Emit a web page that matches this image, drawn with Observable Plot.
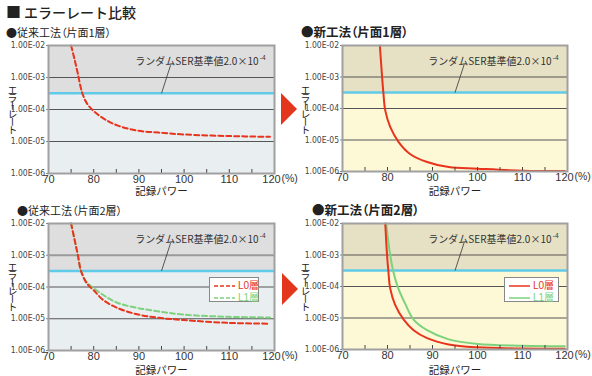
<!DOCTYPE html>
<html><head><meta charset="utf-8">
<script src="https://cdn.jsdelivr.net/npm/d3@7"></script>
<script src="https://cdn.jsdelivr.net/npm/@observablehq/plot@0.6"></script>
<style>
body{margin:0;background:#fff;}
#c{position:relative;width:592px;height:376px;overflow:hidden;font-family:"Liberation Sans","Noto Sans CJK JP",sans-serif;color:#222;}
.abs{position:absolute;white-space:nowrap;}
.jp{font-family:"Noto Sans CJK JP",sans-serif;}
.palt{font-feature-settings:"palt";}
.vlabel{position:absolute;writing-mode:vertical-rl;text-orientation:mixed;font-family:"Noto Sans CJK JP",sans-serif;font-size:10px;letter-spacing:-2px;line-height:10px;color:#222;}
.p [aria-label="y-axis tick label"]{font-family:"Liberation Sans Narrow","DejaVu Sans Condensed","Liberation Sans",sans-serif;font-size:8.5px;}
.arrow{position:absolute;width:0;height:0;border-left:16px solid #e2371c;border-top:16.5px solid transparent;border-bottom:16.5px solid transparent;}
</style></head><body><div id="c"></div>
<script>
// ---- axes ----
const xDomain = [70, 120];
const yDomain = [1e-6, 1e-2];
const xTicks = [70, 80, 90, 100, 110];
const xLastTick = [120];
const minorTicks = [75, 80, 85, 90, 95, 100, 105, 110, 115];
const yTicks = [1e-2, 1e-3, 1e-4, 1e-5, 1e-6];
const yTickLabels = ["1.00E-02", "1.00E-03", "1.00E-04", "1.00E-05", "1.00E-06"];
const gridValues = [1e-3, 1e-4, 1e-5];
const threshold = 3.2e-4;           // drawn position of the reference line
const thresholdText = "ランダムSER基準値2.0×10";
const thresholdExp = "-4";
const xLabel = "記録パワー";
const yLabel = "エラーレート";
const unitText = "(%)";
const title = "エラーレート比較";
const panelTitles = ["●従来工法（片面1層）", "●新工法（片面1層）", "●従来工法（片面2層）", "●新工法（片面2層）"];
const seriesNames = ["L0層", "L1層"];

// ---- series ----
const conv1Power = [75, 75.8, 76.5, 77.4, 78.5, 80, 82.2, 85.2, 89.6, 94.4, 100, 110, 119];
const conv1Rate  = [1e-2, 3.5e-3, 1.3e-3, 3.5e-4, 1.55e-4, 8.9e-5, 5.2e-5, 3.2e-5, 2.2e-5, 1.9e-5, 1.66e-5, 1.48e-5, 1.4e-5];

const new1Power = [78.3, 78.8, 79.1, 79.5, 80.6, 82.4, 85, 88.8, 93.6, 100, 110, 119.4];
const new1Rate  = [1e-2, 1e-3, 2.95e-4, 8.7e-5, 2.6e-5, 8.9e-6, 3.6e-6, 2.0e-6, 1.38e-6, 1.23e-6, 1.06e-6, 1.03e-6];

const conv2L0Power = [75, 75.8, 76.5, 77.2, 78.5, 80, 82.2, 85.2, 89.6, 94.4, 99.9, 109.9, 119];
const conv2L0Rate  = [1e-2, 2.95e-3, 1e-3, 3.16e-4, 1.29e-4, 7.9e-5, 3.8e-5, 2.2e-5, 1.38e-5, 1.07e-5, 9.1e-6, 7.4e-6, 7.0e-6];
const conv2L1Power = [75, 75.8, 76.5, 77.2, 78.5, 80, 82.2, 85.2, 89.6, 94.4, 99.9, 109.9, 119];
const conv2L1Rate  = [1e-2, 2.95e-3, 1e-3, 3.16e-4, 1.4e-4, 9.3e-5, 5.5e-5, 3.2e-5, 2.2e-5, 1.7e-5, 1.35e-5, 1.15e-5, 1.1e-5];

const new2L0Power = [79.5, 79.9, 80.2, 80.6, 81.7, 83.6, 85.8, 88.8, 93.6, 100, 110, 119.4];
const new2L0Rate  = [1e-2, 1e-3, 2.95e-4, 8.7e-5, 2.6e-5, 8.9e-6, 4.1e-6, 2.3e-6, 1.45e-6, 1.17e-6, 1.07e-6, 1.05e-6];
const new2L1Power = [79.7, 80.6, 81.3, 82.4, 83.9, 85.8, 88.8, 93.6, 100, 110, 119.4];
const new2L1Rate  = [1e-2, 1e-3, 2.95e-4, 8.7e-5, 2.9e-5, 8.9e-6, 4.1e-6, 2.1e-6, 1.5e-6, 1.32e-6, 1.26e-6];

const zip = (p, r) => p.map((x, i) => ({power: x, rate: r[i]}));

const RED = "#e8341c", GREEN = "#7dd27d", BLUE = "#5fcbe9";
const root = document.getElementById("c");

function panel({left, top, width, height, upper, lower, grid3, grid3W, lines, labelDy}) {
  const mt = 10, ml = 48, mr = 32, mb = 26;
  const bands = [
    {x1: xDomain[0], x2: xDomain[1], y1: threshold, y2: yDomain[1], fill: upper},
    {x1: xDomain[0], x2: xDomain[1], y1: yDomain[0], y2: threshold, fill: lower}
  ];
  const leader = [{x1: 95, y1: threshold, x2: 97, y2: 2.4e-3}];
  const marks = [
    ...bands.map(b => Plot.rect([b], {x1: "x1", x2: "x2", y1: "y1", y2: "y2", fill: b.fill})),
    Plot.ruleY(gridValues.slice(1), {stroke: "#555", strokeWidth: 1}),
    Plot.ruleY(gridValues.slice(0, 1), {stroke: grid3, strokeWidth: grid3W}),
    Plot.ruleY([threshold], {stroke: BLUE, strokeWidth: 2.5}),
    Plot.link(leader, {x1: "x1", y1: "y1", x2: "x2", y2: "y2", stroke: "#333", strokeWidth: 0.8}),
    Plot.text([thresholdText], {frameAnchor: "top-right", dx: -16, dy: 16, textAnchor: "end", lineAnchor: "middle", fontSize: 10, fill: "#333", fontFamily: "Noto Sans CJK JP"}),
    Plot.text([thresholdExp], {frameAnchor: "top-right", dx: -9, dy: 12.5, textAnchor: "end", lineAnchor: "middle", fontSize: 6.5, fill: "#333"}),
    ...lines.map(l => Plot.line(l.data, {x: "power", y: "rate", stroke: l.color, strokeWidth: 2, strokeDasharray: l.dash, curve: "catmull-rom"})),
    Plot.tickX(minorTicks, {stroke: "#444", strokeWidth: 1, insetTop: height - 4}),
    Plot.frame({stroke: "#a0a0a0", strokeWidth: 2}),
    Plot.axisY({ticks: yTicks, tickFormat: d => yTickLabels[yTicks.indexOf(d)], tickSize: 2, tickPadding: 1.5, stroke: "#888", fill: "#444", label: null}),
    Plot.axisX({ticks: xTicks, tickSize: 0, tickPadding: 1.5, fill: "#333", fontSize: 11, label: null}),
    Plot.axisX({ticks: xLastTick, tickSize: 0, tickPadding: 1.5, dx: -3, fill: "#333", fontSize: 11, label: null}),
    Plot.text([unitText], {frameAnchor: "bottom-right", dx: 7, dy: 1.5, textAnchor: "start", lineAnchor: "top", fontSize: 10.5, fill: "#333"}),
    Plot.text([xLabel], {frameAnchor: "bottom", dy: labelDy, lineAnchor: "middle", fontSize: 10.5, fill: "#222", fontFamily: "Noto Sans CJK JP"})
  ];
  const svg = Plot.plot({
    width: ml + width + mr, height: mt + height + mb,
    marginLeft: ml, marginRight: mr, marginTop: mt, marginBottom: mb,
    className: "p",
    style: {background: "transparent", fontFamily: "Liberation Sans, Noto Sans CJK JP, sans-serif", fontSize: "11px", overflow: "visible"},
    x: {domain: xDomain},
    y: {type: "log", domain: yDomain},
    marks
  });
  svg.style.position = "absolute";
  svg.style.left = (left - ml) + "px";
  svg.style.top = (top - mt) + "px";
  svg.style.maxWidth = "none";
  root.appendChild(svg);
}

const GRAY_UP = "#dedede", GRAY_LO = "#e9eef1", TAN_UP = "#e6e1c4", YEL_LO = "#fdf8d6";
panel({left: 48, top: 45, width: 226, height: 128, upper: GRAY_UP, lower: GRAY_LO, grid3: "#555", grid3W: 1, labelDy: 18.5,
  lines: [{data: zip(conv1Power, conv1Rate), color: RED, dash: "5,3"}]});
panel({left: 342, top: 45, width: 225, height: 126, upper: TAN_UP, lower: YEL_LO, grid3: "#555", grid3W: 1, labelDy: 20.5,
  lines: [{data: zip(new1Power, new1Rate), color: RED, dash: null}]});
panel({left: 48, top: 223, width: 226, height: 127, upper: GRAY_UP, lower: GRAY_LO, grid3: "#9a9a9a", grid3W: 2, labelDy: 20,
  lines: [{data: zip(conv2L1Power, conv2L1Rate), color: GREEN, dash: "5,3"}, {data: zip(conv2L0Power, conv2L0Rate), color: RED, dash: "5,3"}]});
panel({left: 342, top: 223, width: 225, height: 126, upper: TAN_UP, lower: YEL_LO, grid3: "#a09a8a", grid3W: 2, labelDy: 21,
  lines: [{data: zip(new2L1Power, new2L1Rate), color: GREEN, dash: null}, {data: zip(new2L0Power, new2L0Rate), color: RED, dash: null}]});

function addDiv(html, cls, style) {
  const d = document.createElement("div");
  d.className = cls; d.innerHTML = html; Object.assign(d.style, style); root.appendChild(d); return d;
}
// title
addDiv("■", "abs jp", {left: "6px", top: "2px", fontSize: "15px", lineHeight: "20px"});
addDiv(title, "abs jp", {left: "24px", top: "2px", fontSize: "14px", lineHeight: "20px", fontWeight: "500"});
// panel titles
addDiv(panelTitles[0], "abs jp palt", {left: "6px", top: "25px", fontSize: "11px", lineHeight: "14px"});
addDiv(panelTitles[1], "abs jp palt", {left: "301px", top: "24px", fontSize: "12.5px", lineHeight: "16px", fontWeight: "bold"});
addDiv(panelTitles[2], "abs jp palt", {left: "17px", top: "203px", fontSize: "11px", lineHeight: "14px"});
addDiv(panelTitles[3], "abs jp palt", {left: "312px", top: "202px", fontSize: "12.5px", lineHeight: "16px", fontWeight: "bold"});
// y labels
[[7, 85], [300, 85], [7, 262], [300, 262]].forEach(([l, t]) => addDiv(yLabel, "vlabel", {left: l + "px", top: t + "px"}));
// arrows
addDiv("", "arrow", {left: "281px", top: "93px"});
addDiv("", "arrow", {left: "282px", top: "273px"});
// legends
function legend(left, top, w, dashed) {
  const colors = [RED, GREEN];
  const rows = seriesNames.map((n, i) =>
    `<div style="position:absolute;left:4px;top:${3 + i * 12}px;height:10px;line-height:10px;font-size:10px;color:${colors[i]};">` +
    `<svg width="22" height="10" style="vertical-align:top"><line x1="0" x2="21" y1="5" y2="5" stroke="${colors[i]}" stroke-width="1.5" ${dashed ? 'stroke-dasharray="4,2"' : ''}/></svg>` +
    `<span style="margin-left:2px;font-family:'Liberation Sans','Noto Sans CJK JP';">${n}</span></div>`).join("");
  addDiv(rows, "abs", {left: left + "px", top: top + "px", width: w + "px", height: "25px", background: "#fff", border: "1px solid #888", boxSizing: "border-box"});
}
legend(209, 277, 50, true);
legend(504, 277, 55, false);
</script></body></html>
